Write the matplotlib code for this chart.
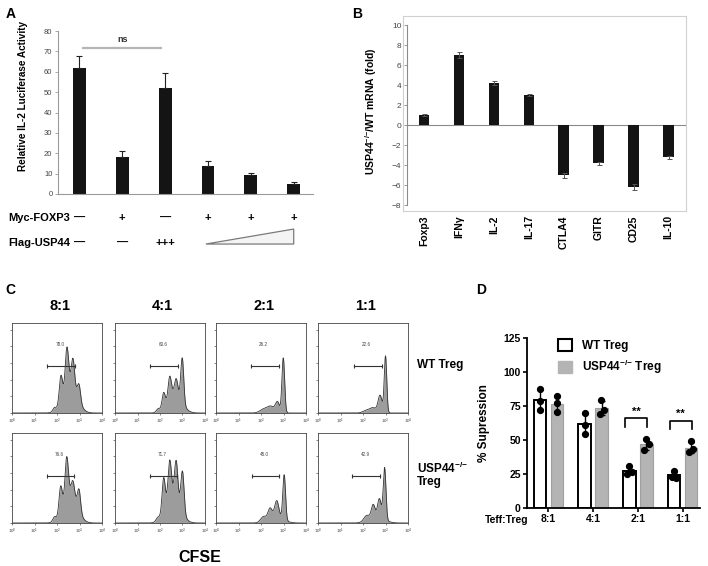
import numpy as np
import matplotlib.pyplot as plt
from matplotlib.patches import Polygon, Rectangle
from matplotlib.lines import Line2D

plt.rcParams['font.family'] = ['Liberation Sans', 'DejaVu Sans']
plt.rcParams['mathtext.default'] = 'regular'

# ---- panel A: luciferase
a_values = [62.0, 18.0, 52.0, 13.8, 9.2, 5.0]
a_errors = [5.5, 3.2, 7.5, 2.2, 1.0, 1.0]
a_myc = ['—', '+', '—', '+', '+', '+']
a_flag = ['—', '—', '+++', '', '', '']

# ---- panel B: mRNA fold change
b_genes = ['Foxp3', 'IFNγ', 'IL-2', 'IL-17', 'CTLA4', 'GITR', 'CD25', 'IL-10']
b_values = [1.0, 7.0, 4.25, 3.05, -5.0, -3.8, -6.15, -3.2]
b_errors = [0.1, 0.3, 0.2, 0.1, 0.25, 0.15, 0.3, 0.15]

# ---- panel C: CFSE histograms, peaks read as (log10 position, height, width)
c_ratios = ['8:1', '4:1', '2:1', '1:1']
c_wt_peaks = [
    [(1.88, 0.04, 0.07), (2.17, 0.30, 0.07), (2.44, 0.45, 0.07), (2.71, 0.31, 0.07), (2.98, 0.19, 0.07), (2.58, 0.38, 0.30)],
    [(1.92, 0.04, 0.08), (2.16, 0.18, 0.07), (2.43, 0.25, 0.07), (2.72, 0.17, 0.07), (2.99, 0.53, 0.065), (2.65, 0.25, 0.30)],
    [(2.15, 0.05, 0.18), (2.45, 0.07, 0.14), (2.73, 0.13, 0.09), (2.99, 0.66, 0.06)],
    [(2.15, 0.03, 0.15), (2.45, 0.06, 0.14), (2.76, 0.21, 0.09), (3.00, 0.68, 0.055)],
]
c_ko_peaks = [
    [(1.88, 0.05, 0.07), (2.16, 0.30, 0.07), (2.43, 0.46, 0.07), (2.71, 0.16, 0.07), (2.98, 0.25, 0.07), (2.58, 0.38, 0.30)],
    [(1.90, 0.04, 0.08), (2.16, 0.40, 0.07), (2.43, 0.42, 0.07), (2.72, 0.41, 0.07), (3.00, 0.48, 0.07), (2.58, 0.38, 0.30)],
    [(2.10, 0.06, 0.12), (2.40, 0.12, 0.09), (2.70, 0.19, 0.09), (3.03, 0.54, 0.06), (2.65, 0.08, 0.32)],
    [(2.15, 0.06, 0.12), (2.45, 0.15, 0.08), (2.73, 0.22, 0.08), (2.96, 0.62, 0.06), (2.60, 0.08, 0.32)],
]
c_wt_gates = [(1.56, 2.79, 0.57), (1.57, 2.81, 0.56), (1.55, 2.79, 0.57), (1.60, 2.83, 0.57)]
c_ko_gates = [(1.56, 2.75, 0.57), (1.57, 2.76, 0.57), (1.59, 2.82, 0.57), (1.53, 2.76, 0.57)]
c_wt_pct = ['78.0', '60.6', '26.2', '22.6']
c_ko_pct = ['76.6', '71.7', '45.0', '42.9']

# ---- panel D: suppression
d_groups = ['8:1', '4:1', '2:1', '1:1']
d_wt_points = [[87.4, 78.7, 71.8], [69.6, 60.9, 54.5], [30.4, 25.0, 26.2], [26.6, 22.5, 21.7]]
d_ko_points = [[82.4, 77.0, 70.5], [79.2, 72.0, 69.0], [50.7, 46.5, 42.3], [49.0, 42.8, 40.8]]
d_sig = ['', '', '**', '**']

KO = 'USP44$^{{-}/{-}}$'

W, H = 708, 566
fig = plt.figure(figsize=(W / 100, H / 100), dpi=100)


def box(l, t, r, b):
    return [l / W, 1 - b / H, (r - l) / W, (b - t) / H]


# ================= A
axA = fig.add_axes(box(58, 31, 313, 194))
xa = np.arange(len(a_values))
axA.bar(xa, a_values, width=0.3, color='#141414',
        yerr=[np.zeros(len(a_errors)), a_errors], capsize=2.5,
        error_kw=dict(elinewidth=0.8, capthick=0.8, ecolor='#222'))
axA.set_xlim(-0.5, 5.45)
axA.set_ylim(0, 80)
axA.set_yticks(range(0, 81, 10))
axA.set_xticks([])
for s in ['top', 'right']:
    axA.spines[s].set_visible(False)
for s in ['left', 'bottom']:
    axA.spines[s].set_color('#9a9a9a')
    axA.spines[s].set_linewidth(0.8)
axA.tick_params(axis='y', labelsize=5.5, labelcolor='#444', color='#9a9a9a', length=2, width=0.6, pad=2)
axA.set_ylabel('Relative IL-2 Luciferase Activity', fontsize=7.2, fontweight='bold')
axA.yaxis.set_label_coords(-0.118, 0.6)
axA.plot([0.07, 1.93], [71.5, 71.5], color='#b5b5b5', lw=1.6, solid_capstyle='butt')
axA.text(1.0, 73.5, 'ns', ha='center', va='bottom', fontsize=6.5, fontweight='bold', color='#333')

tr = axA.get_xaxis_transform()
axA.text(-0.21, -0.147, 'Myc-FOXP3', transform=tr, ha='right', va='center', fontsize=8, fontweight='bold')
axA.text(-0.21, -0.30, 'Flag-USP44', transform=tr, ha='right', va='center', fontsize=8, fontweight='bold')
for i, (m, f) in enumerate(zip(a_myc, a_flag)):
    axA.text(i, -0.147, m, transform=tr, ha='center', va='center', fontsize=8, fontweight='bold')
    if f:
        axA.text(i, -0.30, f, transform=tr, ha='center', va='center', fontsize=8, fontweight='bold')
wedge = Polygon([(2.95, -0.307), (5.0, -0.215), (5.0, -0.307)], closed=True, transform=tr,
                facecolor='#f4f4f4', edgecolor='#7a7a7a', lw=0.9, clip_on=False)
axA.add_patch(wedge)

# ================= B
axB = fig.add_axes(box(403, 16, 686, 211))
xb = np.arange(len(b_values))
axB.axhline(0, xmin=0.014, xmax=1, color='#8a8a8a', lw=0.8, zorder=1)
axB.bar(xb, b_values, width=0.3, color='#141414', zorder=2,
        yerr=b_errors, capsize=1.8,
        error_kw=dict(elinewidth=0.7, capthick=0.7, ecolor='#555'))
axB.set_xlim(-0.6, 7.5)
axB.set_ylim(-8.6, 10.9)
axB.set_yticks(range(-8, 11, 2))
for s in ['top', 'right', 'bottom']:
    axB.spines[s].set_color('#d0d0d0')
    axB.spines[s].set_linewidth(0.8)
axB.spines['left'].set_position(('axes', 0.014))
axB.spines['left'].set_bounds(-8, 10)
axB.spines['left'].set_color('#8a8a8a')
axB.add_line(Line2D([0, 0], [0, 1], transform=axB.transAxes, color='#d0d0d0', lw=0.8, clip_on=False))
axB.tick_params(axis='y', labelsize=6, labelcolor='#444', color='#8a8a8a', length=2, width=0.6, pad=2)
axB.set_xticks(xb)
axB.set_xticklabels(b_genes, rotation=90, fontsize=7.5, fontweight='bold')
axB.tick_params(axis='x', length=0, pad=3)
axB.set_ylabel(KO + '/WT mRNA (fold)', fontsize=7.5, fontweight='bold')
axB.yaxis.set_label_coords(-0.085, 0.51)

# ================= C
col_left = [12, 115, 216, 318]
row_top = [323, 433]
grid = np.linspace(0, 4, 600)
for r, (peaks_row, gates_row, pct_row) in enumerate([(c_wt_peaks, c_wt_gates, c_wt_pct),
                                                      (c_ko_peaks, c_ko_gates, c_ko_pct)]):
    for c in range(4):
        l, t = col_left[c], row_top[r]
        ax = fig.add_axes(box(l, t, l + 90, t + 90))
        y = np.zeros_like(grid)
        for p, h, s in peaks_row[c]:
            y += h * np.exp(-0.5 * ((grid - p) / s) ** 2)
        ax.fill_between(grid, 0, y, color='#9c9c9c', lw=0)
        ax.plot(grid, y, color='#333', lw=0.6)
        g0, g1, gy = gates_row[c]
        ax.plot([g0, g1], [gy, gy], color='#333', lw=0.8, marker='|', markersize=3, markeredgewidth=0.8)
        ax.text((g0 + g1) / 2 - 0.05, 0.82, pct_row[c], ha='center', va='center', fontsize=3.3, color='#444')
        ax.set_xlim(0, 4)
        ax.set_ylim(0, 1.08)
        ax.set_xticks(range(5))
        ax.set_xticklabels(['$10^{%d}$' % k for k in range(5)], fontsize=3.2, color='#444')
        ax.set_yticks(np.arange(0, 1.01, 0.2))
        ax.set_yticklabels([])
        ax.tick_params(length=1.5, width=0.5, pad=1, color='#555')
        for s in ax.spines.values():
            s.set_linewidth(0.6)
            s.set_color('#444')
        if r == 0:
            ax.text(0.53, 1.11, c_ratios[c], transform=ax.transAxes, ha='center', va='bottom',
                    fontsize=10.5, fontweight='bold')

fig.text(417 / W, 1 - 365 / H, 'WT Treg', ha='left', va='center', fontsize=8.5, fontweight='bold')
fig.text(417 / W, 1 - 474 / H, KO + '\nTreg', ha='left', va='center', fontsize=8.5,
         fontweight='bold', linespacing=1.0)
fig.text(200 / W, 1 - 557 / H, 'CFSE', ha='center', va='center', fontsize=11.5, fontweight='bold')

# ================= D
axD = fig.add_axes(box(527, 338, 700, 507.5))
xd = np.arange(len(d_groups))
off, bw = 0.19, 0.28
wt_mean = [np.mean(p) for p in d_wt_points]
ko_mean = [np.mean(p) for p in d_ko_points]
wt_sd = [np.std(p, ddof=1) for p in d_wt_points]
ko_sd = [np.std(p, ddof=1) for p in d_ko_points]
axD.bar(xd - off, wt_mean, width=bw, color='white', edgecolor='black', lw=1.4, zorder=2)
axD.bar(xd + off, ko_mean, width=bw, color='#b4b4b4', edgecolor='#a0a0a0', lw=0.8, zorder=2)
axD.errorbar(xd - off, wt_mean, yerr=wt_sd, fmt='none', ecolor='black', elinewidth=1.0,
             capsize=2, capthick=1.0, zorder=3)
axD.errorbar(xd + off, ko_mean, yerr=ko_sd, fmt='none', ecolor='black', elinewidth=1.0,
             capsize=2, capthick=1.0, zorder=3)
jitter = [[0, 0, 0], [0, 0, 0], [0.0, -0.05, 0.05], [0.0, -0.05, 0.05]]
ko_jitter = [[0, 0, 0], [-0.02, 0.06, -0.04], [0.0, 0.05, -0.05], [0.0, 0.05, -0.05]]
for i in range(len(d_groups)):
    axD.plot(xd[i] - off + np.array(jitter[i]), d_wt_points[i], 'o', color='black', ms=4.2, zorder=4)
    axD.plot(xd[i] + off + np.array(ko_jitter[i]), d_ko_points[i], 'o', color='black', ms=4.2, zorder=4)
    if d_sig[i]:
        top = max(d_ko_points[i]) + 15
        axD.plot([xd[i] - 0.28, xd[i] - 0.28, xd[i] + 0.2, xd[i] + 0.2],
                 [top - 6, top, top, top - 6], color='black', lw=1.2)
        axD.text(xd[i] - 0.04, top + 1.5, d_sig[i], ha='center', va='bottom', fontsize=8, fontweight='bold')
axD.set_xlim(-0.48, 3.39)
axD.set_ylim(0, 125)
axD.set_yticks(range(0, 126, 25))
axD.set_xticks(xd)
axD.set_xticklabels(d_groups)
for s in ['top', 'right']:
    axD.spines[s].set_visible(False)
for s in ['left', 'bottom']:
    axD.spines[s].set_linewidth(1.3)
axD.tick_params(length=3, width=1.2, labelsize=7.5, pad=1.5)
for lab in axD.get_xticklabels() + axD.get_yticklabels():
    lab.set_fontweight('bold')
axD.set_ylabel('% Supression', fontsize=8.5, fontweight='bold')
axD.yaxis.set_label_coords(-0.214, 0.5)
axD.text(-0.116, -0.074, 'Teff:Treg', transform=axD.transAxes, ha='center', va='center',
         fontsize=7.5, fontweight='bold')
handles = [Rectangle((0, 0), 1, 1, facecolor='white', edgecolor='black', lw=1.5),
           Rectangle((0, 0), 1, 1, facecolor='#b4b4b4', edgecolor='#b4b4b4')]
axD.legend(handles, ['WT Treg', KO + ' Treg'], loc='upper left', bbox_to_anchor=(0.145, 1.03),
           frameon=False, borderpad=0, handlelength=1.2, handleheight=1.2, handletextpad=0.8,
           labelspacing=0.5, prop=dict(size=8.5, weight='bold'))

# panel letters
for letter, (px, py) in zip('ABCD', [(11, 14), (357, 14), (10, 290), (481, 290)]):
    fig.text(px / W, 1 - py / H, letter, ha='center', va='center', fontsize=10, fontweight='bold')

fig.savefig('out.png', dpi=100)
